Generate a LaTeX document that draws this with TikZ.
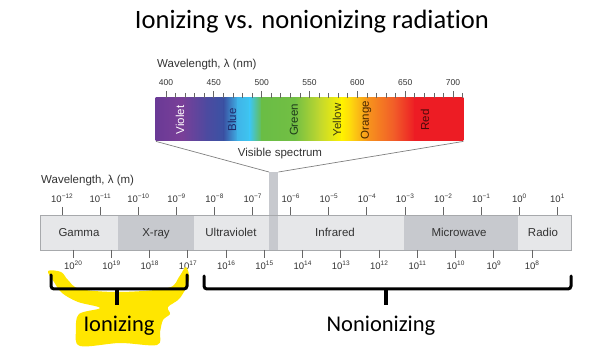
\documentclass[tikz,border=0pt]{standalone}
\usepackage{fontspec}
\setmainfont{Liberation Sans}
\newfontfamily\calib[Ligatures={NoCommon,NoRequired,NoContextual}]{Carlito}
\definecolor{txtgray}{HTML}{333333}
\definecolor{tickgray}{HTML}{666666}
\definecolor{seglight}{HTML}{E6E7E9}
\definecolor{segdark}{HTML}{C7C9CE}
\definecolor{outl}{HTML}{A7A9AC}
\definecolor{hl}{HTML}{FFE600}
\definecolor{s1}{HTML}{6A3A96}
\definecolor{s2}{HTML}{7A3F98}
\definecolor{s3}{HTML}{4C4AA0}
\definecolor{s4}{HTML}{3A53A4}
\definecolor{s5}{HTML}{3FB5E9}
\definecolor{s6}{HTML}{3EC6F0}
\definecolor{s7}{HTML}{6ABD45}
\definecolor{s8}{HTML}{72BF44}
\definecolor{s9}{HTML}{C2D82E}
\definecolor{s10}{HTML}{FFF200}
\definecolor{s11}{HTML}{FDD30F}
\definecolor{s12}{HTML}{F7941D}
\definecolor{s13}{HTML}{F15A29}
\definecolor{s14}{HTML}{ED1C24}
\definecolor{tblue}{HTML}{1F2A6B}
\definecolor{tgreen}{HTML}{1F3A1A}
\definecolor{tyellow}{HTML}{3A3A10}
\definecolor{torange}{HTML}{4A2A00}
\definecolor{tred}{HTML}{4A0A0A}
\newcommand\tenpow[1]{10\raisebox{4.5pt}{\fontsize{6.5}{7}\selectfont #1}}
\begin{document}
\begin{tikzpicture}[x=1pt,y=-1pt,
  lbl/.style={font=\fontsize{11.5}{13}\selectfont, text=txtgray, inner sep=0},
  tlbl/.style={font=\fontsize{9.5}{11}\selectfont, text=txtgray, inner sep=0, anchor=base},
  seg/.style={anchor=north west, inner sep=0, minimum height=35pt},
  tickln/.style={draw=tickgray, line width=0.7pt},
  brace/.style={line width=3pt, line cap=round, rounded corners=3pt, draw=black},
  specl/.style={rotate=90, font=\fontsize{11.5}{13}\selectfont, inner sep=0},
  funnel/.style={draw=gray, line width=0.7pt}]
\useasboundingbox (0,0) rectangle (614,358);

% title
\node[font=\calib\fontsize{26.5}{30}\selectfont, anchor=base, inner sep=0] (title) at (312,29) {Ionizing vs. nonionizing radiation};

% visible spectrum gradient
\foreach \xa/\ca/\xb/\cb in {156/s1/182/s2, 182/s2/207/s3, 207/s3/224/s4, 224/s4/238/s5, 238/s5/250/s6, 250/s6/262/s7, 262/s7/295/s8, 295/s8/320/s9, 320/s9/342/s10, 342/s10/352/s11, 352/s11/368/s12, 368/s12/395/s13, 395/s13/415/s14, 415/s14/463/s14}
  \shade[left color=\ca, right color=\cb] (\xa-0.3,98) rectangle (\xb+0.3,141);
\node[anchor=north west, inner sep=0, minimum width=307pt, minimum height=43pt] (vis) at (156,98) {};

% nm ticks
\foreach \n in {0,...,31} {
  \pgfmathsetmacro{\xx}{166+\n*9.567}
  \pgfmathtruncatemacro{\mj}{mod(\n,5)==0 ? 1 : 0}
  \ifnum\mj=1 \draw[tickln] (\xx,91) -- (\xx,98); \else \draw[tickln] (\xx,93) -- (\xx,98); \fi
}
\foreach \v [count=\i from 0] in {400,450,500,550,600,650,700}
  \node[tlbl, font=\fontsize{8.5}{10}\selectfont] (nm\i) at ({166+\i*47.83},86) {\v};
\node[lbl, anchor=base west] (wlnm) at (157,68) {Wavelength, λ (nm)};

% spectrum colour names
\node[specl, text=white] (tviolet) at (180,120) {Violet};
\node[specl, text=tblue] (tblue) at (232,120) {Blue};
\node[specl, text=tgreen] (tgreen) at (294,120) {Green};
\node[specl, text=tyellow] (tyellow) at (337,120) {Yellow};
\node[specl, text=torange] (torange) at (366,120) {Orange};
\node[specl, text=tred] (tred) at (425,120) {Red};
\node[lbl, anchor=base] (vislbl) at (280,157) {Visible spectrum};

% main bar
\node[seg, fill=seglight, minimum width=78pt] (gamma) at (40,215) {};
\node[seg, fill=segdark, minimum width=76pt] (xray) at (118,215) {};
\node[seg, fill=seglight, minimum width=75pt] (uv) at (194,215) {};
\node[seg, fill=seglight, minimum width=126pt] (ir) at (278,215) {};
\node[seg, fill=segdark, minimum width=114pt] (mw) at (404,215) {};
\node[seg, fill=seglight, minimum width=53pt] (radio) at (518,215) {};
\node[anchor=north west, inner sep=0, minimum width=9pt, minimum height=78pt, fill=segdark] (band) at (269,172) {};
\draw[outl, line width=0.6pt] (gamma.north west) rectangle (radio.south east);

\draw[funnel] (vis.south west) -- (band.north west);
\draw[funnel] (vis.south east) -- (band.north east);

\node[lbl, anchor=base] (lgamma) at (79,237) {Gamma};
\node[lbl, anchor=base] (lxray) at (156,237) {X-ray};
\node[lbl, anchor=base] (luv) at (231,237) {Ultraviolet};
\node[lbl, anchor=base] (lir) at (335,237) {Infrared};
\node[lbl, anchor=base] (lmw) at (459,237) {Microwave};
\node[lbl, anchor=base] (lradio) at (543,237) {Radio};

\node[lbl, anchor=base west] (wlm) at (41,184) {Wavelength, λ (m)};

% wavelength ticks
\foreach \e [count=\i from 0] in {−12,−11,−10,−9,−8,−7,−6,−5,−4,−3,−2,−1,0,1} {
  \draw[tickln] ({62+38.1*\i},207) -- ({62+38.1*\i},215);
  \node[tlbl] (wt\i) at ({62+38.1*\i},203) {\tenpow{\e}};
}
% frequency ticks
\foreach \e [count=\i from 0] in {20,19,18,17,16,15,14,13,12,11,10,9,8} {
  \draw[tickln] ({73+38.25*\i},250) -- ({73+38.25*\i},258);
  \node[tlbl] (ft\i) at ({73+38.25*\i},270) {\tenpow{\e}};
}

% highlight
\fill[hl] plot[smooth cycle, tension=0.55] coordinates {(48,271) (61,272) (68,280) (80,289) (120,292) (168,288) (179,277) (186,267) (189,280) (180,298) (168,307) (170,314) (163,320) (160,332) (157,345) (120,343) (80,346) (76,330) (79,314) (100,308) (78,302) (62,293) (54,282)};

% braces
\coordinate (lb1) at (51,275);
\coordinate (lb2) at (51,289);
\coordinate (lb3) at (187,289);
\coordinate (lb4) at (187,275);
\coordinate (lbt) at (117,289);
\coordinate (lbb) at (117,305);
\draw[brace] (lb1) -- (lb2) -- (lb3) -- (lb4);
\draw[line width=3.5pt, draw=black] (lbt) -- (lbb);
\coordinate (rb1) at (204,276);
\coordinate (rb2) at (204,289);
\coordinate (rb3) at (571,289);
\coordinate (rb4) at (571,276);
\coordinate (rbt) at (386,289);
\coordinate (rbb) at (386,305);
\draw[brace] (rb1) -- (rb2) -- (rb3) -- (rb4);
\draw[line width=3.5pt, draw=black] (rbt) -- (rbb);

\node[font=\calib\fontsize{22.5}{26}\selectfont, anchor=base, inner sep=0] (ion) at (119,332) {Ionizing};
\node[font=\calib\fontsize{22.5}{26}\selectfont, anchor=base, inner sep=0] (nonion) at (381,332) {Nonionizing};
\end{tikzpicture}
\end{document}
